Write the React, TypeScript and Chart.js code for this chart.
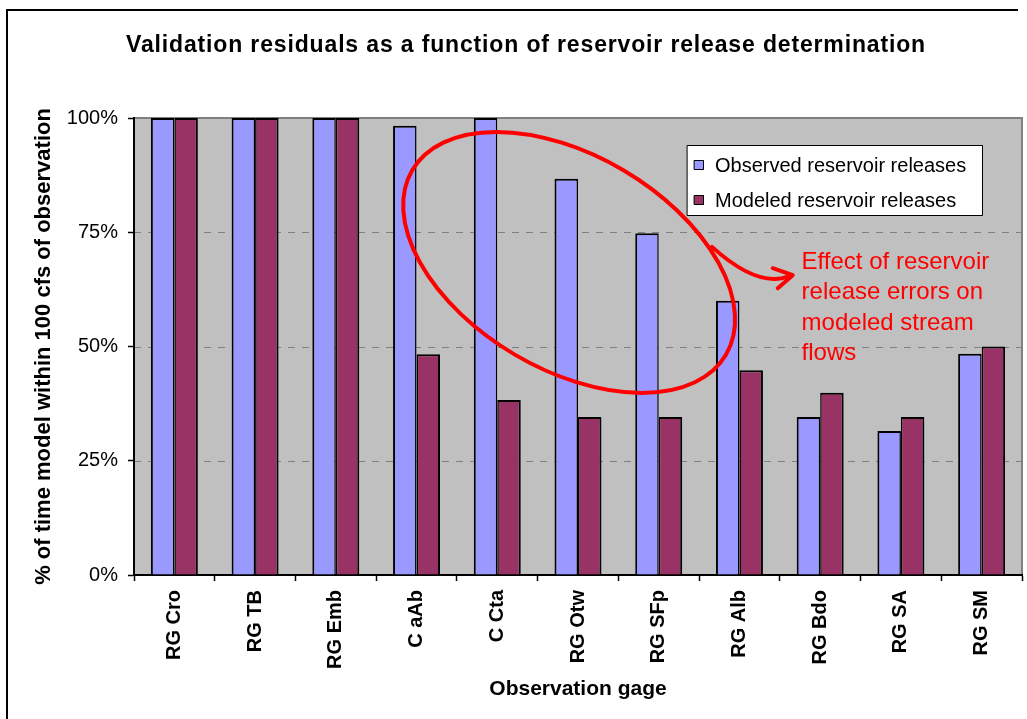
import React, { useEffect, useRef } from "react";
import { Chart, registerables } from "chart.js";

Chart.register(...registerables);

const categories = ["RG Cro", "RG TB", "RG Emb", "C aAb", "C Cta", "RG Otw", "RG SFp", "RG Alb", "RG Bdo", "RG SA", "RG SM"];
const observed = [100, 100, 100, 98.3, 100, 86.7, 74.8, 60, 34.6, 31.5, 48.4];
const modeled = [100, 100, 100, 48.3, 38.3, 34.6, 34.6, 44.8, 39.9, 34.6, 50];
const yTicks = [0, 25, 50, 75, 100];
const seriesNames = ["Observed reservoir releases", "Modeled reservoir releases"];
const seriesColors = ["#9999FF", "#993366"];
const chartTitle = "Validation residuals as a function of reservoir release determination";
const yTitle = "% of time model within 100 cfs of observation";
const xTitle = "Observation gage";
const noteLines = ["Effect of reservoir", "release errors on", "modeled stream", "flows"];

const FONT = "'Liberation Sans', Arial, Helvetica, sans-serif";

const decorPlugin = {
  id: "decor",
  beforeDraw(chart: any) {
    const { ctx, chartArea: a } = chart;
    ctx.save();
    ctx.fillStyle = "#ffffff";
    ctx.fillRect(0, 0, chart.width, chart.height);
    // outer frame
    ctx.strokeStyle = "#000000";
    ctx.lineWidth = 2;
    ctx.beginPath();
    ctx.moveTo(7, chart.height + 2);
    ctx.lineTo(7, 10);
    ctx.lineTo(1018, 10);
    ctx.stroke();
    // plot area
    ctx.fillStyle = "#C0C0C0";
    ctx.fillRect(a.left, a.top, a.right - a.left, a.bottom - a.top);
    ctx.strokeStyle = "#808080";
    ctx.lineWidth = 2;
    ctx.strokeRect(a.left, a.top, a.right - a.left, a.bottom - a.top);
    // dashed gridlines
    const y = chart.scales.y;
    ctx.setLineDash([7, 7]);
    ctx.lineWidth = 1;
    ctx.strokeStyle = "#808080";
    for (const v of yTicks) {
      if (v <= 0 || v >= 100) continue;
      const py = Math.round(y.getPixelForValue(v)) + 0.5;
      ctx.beginPath();
      ctx.moveTo(a.left, py);
      ctx.lineTo(a.right, py);
      ctx.stroke();
    }
    ctx.setLineDash([]);
    // title
    ctx.fillStyle = "#000000";
    ctx.font = `bold 23px ${FONT}`;
    try {
      (ctx as any).letterSpacing = "0.85px";
    } catch (e) {}
    ctx.textAlign = "center";
    ctx.textBaseline = "middle";
    ctx.fillText(chartTitle, (a.left + a.right) / 2 - 52, 46);
    try {
      (ctx as any).letterSpacing = "0px";
    } catch (e) {}
    ctx.restore();
  },
  afterDatasetsDraw(chart: any) {
    const { ctx, chartArea: a } = chart;
    const x = chart.scales.x;
    const y = chart.scales.y;
    ctx.save();
    // ellipse annotation
    ctx.strokeStyle = "#FF0000";
    ctx.lineWidth = 4;
    ctx.beginPath();
    ctx.ellipse(x.getPixelForValue(4.89), y.getPixelForValue(68.4), 182, 107, (30.5 * Math.PI) / 180, 0, Math.PI * 2);
    ctx.stroke();
    // arrow
    const sx = x.getPixelForValue(6.66), sy = y.getPixelForValue(71.8);
    const cx = x.getPixelForValue(7.25), cy = y.getPixelForValue(62.4);
    const tx = x.getPixelForValue(7.66), ty = y.getPixelForValue(65.6);
    ctx.lineCap = "round";
    ctx.lineJoin = "round";
    ctx.beginPath();
    ctx.moveTo(sx, sy);
    ctx.quadraticCurveTo(cx, cy, tx - 2, ty);
    ctx.stroke();
    ctx.beginPath();
    ctx.moveTo(tx - 20, ty - 7);
    ctx.lineTo(tx, ty);
    ctx.lineTo(tx - 15, ty + 13);
    ctx.stroke();
    // note text
    ctx.fillStyle = "#FF0000";
    ctx.font = `24px ${FONT}`;
    ctx.textAlign = "left";
    ctx.textBaseline = "alphabetic";
    const nx = x.getPixelForValue(7.77);
    const ny = y.getPixelForValue(67.0);
    noteLines.forEach((t, i) => ctx.fillText(t, nx, ny + i * 30.5));
    // legend
    const lx = a.right - 335, ly = a.top + 27, lw = 295, lh = 70;
    ctx.fillStyle = "#ffffff";
    ctx.fillRect(lx, ly, lw, lh);
    ctx.strokeStyle = "#000000";
    ctx.lineWidth = 1;
    ctx.strokeRect(lx + 0.5, ly + 0.5, lw, lh);
    ctx.font = `20px ${FONT}`;
    ctx.textBaseline = "middle";
    seriesNames.forEach((name, i) => {
      const cyy = ly + 20 + i * 35;
      ctx.fillStyle = seriesColors[i];
      ctx.fillRect(lx + 7, cyy - 5, 10, 10);
      ctx.strokeStyle = "#000000";
      ctx.lineWidth = 1;
      ctx.strokeRect(lx + 7.5, cyy - 4.5, 9, 9);
      ctx.fillStyle = "#000000";
      ctx.fillText(name, lx + 28, cyy + 1);
    });
    ctx.restore();
  },
};

export default function App() {
  const ref = useRef<HTMLCanvasElement | null>(null);
  useEffect(() => {
    if (!ref.current) return;
    const chart = new Chart(ref.current, {
      type: "bar",
      data: {
        labels: categories,
        datasets: [
          {
            label: seriesNames[0],
            data: observed,
            backgroundColor: seriesColors[0],
            borderColor: "#000000",
            borderWidth: { left: 2, top: 2, right: 1.5, bottom: 0 },
            borderSkipped: false,
            categoryPercentage: 0.582,
            barPercentage: 1,
          },
          {
            label: seriesNames[1],
            data: modeled,
            backgroundColor: seriesColors[1],
            borderColor: "#000000",
            borderWidth: { left: 1.5, top: 2, right: 2, bottom: 0 },
            borderSkipped: false,
            categoryPercentage: 0.582,
            barPercentage: 1,
          },
        ],
      },
      options: {
        responsive: false,
        animation: false,
        devicePixelRatio: 1,
        layout: { padding: { left: 0, right: 5, top: 118, bottom: 0 } },
        plugins: {
          legend: { display: false },
          title: { display: false },
          tooltip: { enabled: false },
        },
        scales: {
          x: {
            afterFit(scale: any) {
              scale.height = 144;
            },
            grid: {
              offset: true,
              drawOnChartArea: false,
              drawTicks: true,
              tickLength: 6,
              tickColor: "#000000",
              tickWidth: 1.5,
            },
            border: { display: true, color: "#000000", width: 2 },
            ticks: {
              autoSkip: false,
              maxRotation: 90,
              minRotation: 90,
              padding: 9,
              color: "#000000",
              font: { family: FONT, size: 20, weight: "bold" },
            },
            title: {
              display: true,
              text: xTitle,
              color: "#000000",
              font: { family: FONT, size: 21, weight: "bold" },
              padding: { top: 0, bottom: 17 },
            },
          },
          y: {
            min: 0,
            max: 100,
            afterFit(scale: any) {
              scale.width = 134;
            },
            afterBuildTicks(scale: any) {
              scale.ticks = yTicks.map((v) => ({ value: v }));
            },
            grid: {
              drawOnChartArea: false,
              drawTicks: true,
              tickLength: 6,
              tickColor: "#000000",
              tickWidth: 1.5,
            },
            border: { display: true, color: "#000000", width: 2 },
            ticks: {
              padding: 10,
              color: "#000000",
              font: { family: FONT, size: 20 },
              callback: (v: any) => `${v}%`,
            },
            title: {
              display: true,
              text: yTitle,
              color: "#000000",
              font: { family: FONT, size: 22, weight: "bold" },
              padding: { top: 31, bottom: 0 },
            },
          },
        },
      },
      plugins: [decorPlugin],
    });
    return () => chart.destroy();
  }, []);
  return (
    <div style={{ position: "absolute", left: 0, top: 0, width: 1027, height: 719, overflow: "hidden" }}>
      <canvas ref={ref} width={1027} height={719} style={{ display: "block" }} />
    </div>
  );
}
